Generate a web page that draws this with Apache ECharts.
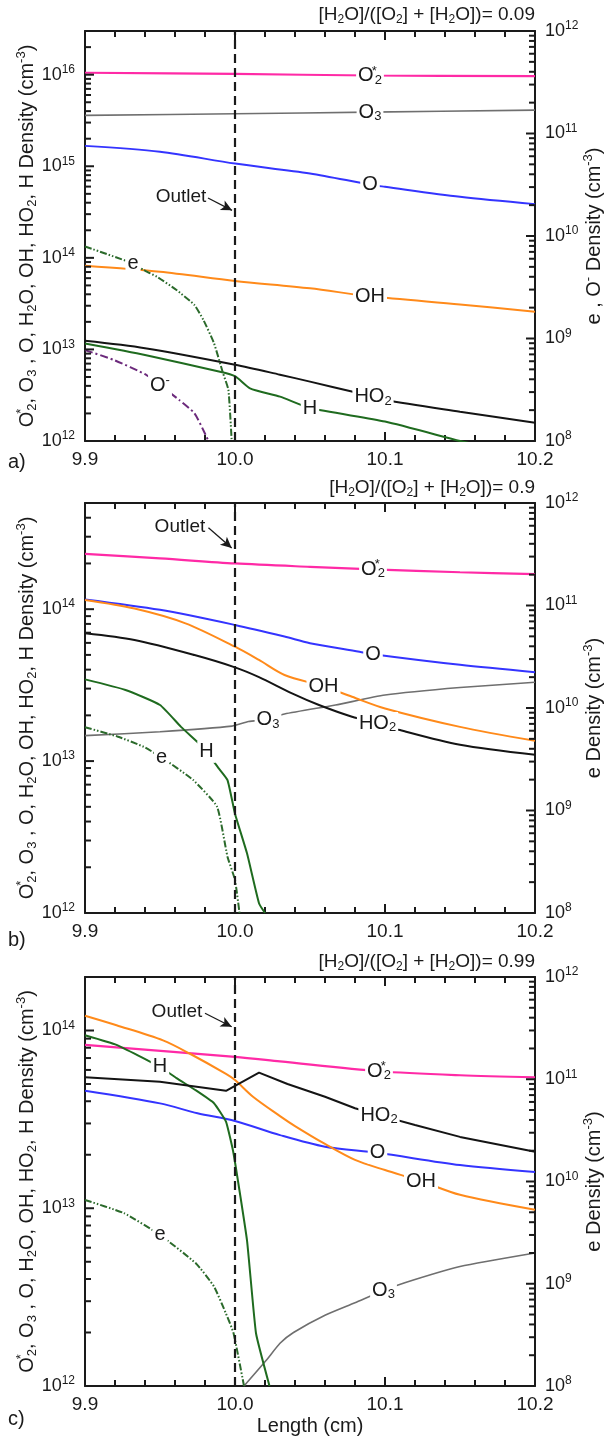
<!DOCTYPE html>
<html>
<head>
<meta charset="utf-8">
<script src="https://cdn.jsdelivr.net/npm/echarts@6.0.0/dist/echarts.min.js"></script>
<style>
html,body{margin:0;padding:0;background:#ffffff;}
#chart{width:605px;height:1444px;}
</style>
</head>
<body>
<div id="chart"></div>
<script>
// ================= DATA =================
const xMin = 9.9, xMax = 10.2, xStep = 0.1, xMinorSplit = 5;
const outletX = 10.0;
const ratioLabels = ['0.09', '0.9', '0.99'];
const panelLetters = ['a)', 'b)', 'c)'];
const leftMin = 1e12;
const leftMax = [3e16, 5e14, 2e14];
const rightMin = 1e8, rightMax = 1e12;

// ---- panel a : [H2O]/([O2]+[H2O]) = 0.09 ----
const a_O2s_x = [9.9, 10.0, 10.09, 10.2];
const a_O2s_y = [1.05e16, 1.02e16, 9.8e15, 9.66e15];
const a_O3_x = [9.9, 10.0, 10.09, 10.2];
const a_O3_y = [3.6e15, 3.74e15, 3.9e15, 4.1e15];
const a_O_x = [9.9, 9.95, 10.0, 10.05, 10.09, 10.1, 10.15, 10.2];
const a_O_y = [1.67e15, 1.44e15, 1.07e15, 8.35e14, 6.3e14, 5.97e14, 4.64e14, 3.86e14];
const a_OH_x = [9.9, 9.95, 10.0, 10.05, 10.09, 10.15, 10.2];
const a_OH_y = [8.2e13, 7.05e13, 5.6e13, 4.65e13, 3.8e13, 3.1e13, 2.58e13];
const a_HO2_x = [9.9, 9.94, 10.0, 10.03, 10.05, 10.08, 10.092, 10.1, 10.15, 10.2];
const a_HO2_y = [1.24e13, 1.03e13, 6.8e12, 5.3e12, 4.45e12, 3.4e12, 3.05e12, 2.8e12, 2.09e12, 1.58e12];
const a_H_x = [9.9, 9.94, 9.99, 10.0, 10.01, 10.03, 10.05, 10.1, 10.15, 10.16];
const a_H_y = [1.16e13, 8.7e12, 5.7e12, 5.1e12, 3.76e12, 3.05e12, 2.29e12, 1.63e12, 1.0e12, 0.92e12];
const a_e_x = [9.9, 9.932, 9.939, 9.948, 9.961, 9.973, 9.979, 9.986, 9.992, 9.9956, 9.9978];
const a_e_y = [7.9e9, 5.4e9, 4.66e9, 4.0e9, 2.97e9, 2.12e9, 1.51e9, 9.0e8, 4.6e8, 3.15e8, 1.0e8];
const a_Om_x = [9.9, 9.919, 9.941, 9.95, 9.963, 9.973, 9.981, 9.983];
const a_Om_y = [7.7e8, 6.2e8, 4.4e8, 3.5e8, 2.5e8, 1.86e8, 1.1e8, 0.95e8];
const a_outletText = [9.964, 4.6e14];
const a_outletArrow = [[9.982, 4.5e14], [9.998, 3.3e14]];

// ---- panel b : 0.9 ----
const b_O2s_x = [9.9, 9.95, 10.0, 10.05, 10.092, 10.15, 10.2];
const b_O2s_y = [2.31e14, 2.16e14, 2.0e14, 1.9e14, 1.83e14, 1.75e14, 1.7e14];
const b_O_x = [9.9, 9.95, 10.0, 10.033, 10.05, 10.083, 10.092, 10.15, 10.2];
const b_O_y = [1.16e14, 9.9e13, 7.87e13, 6.6e13, 5.97e13, 5.25e13, 5.05e13, 4.3e13, 3.85e13];
const b_OH_x = [9.9, 9.933, 9.967, 10.0, 10.016, 10.033, 10.059, 10.078, 10.1, 10.15, 10.2];
const b_OH_y = [1.15e14, 1.01e14, 8.07e13, 5.66e13, 4.63e13, 3.69e13, 3.1e13, 2.65e13, 2.22e13, 1.68e13, 1.36e13];
const b_HO2_x = [9.9, 9.933, 9.973, 10.0, 10.016, 10.038, 10.056, 10.078, 10.095, 10.11, 10.15, 10.2];
const b_HO2_y = [6.94e13, 6.27e13, 4.99e13, 4.14e13, 3.57e13, 2.79e13, 2.34e13, 1.96e13, 1.78e13, 1.6e13, 1.28e13, 1.1e13];
const b_O3_x = [9.9, 9.95, 9.998, 10.009, 10.022, 10.033, 10.067, 10.1, 10.15, 10.2];
const b_O3_y = [1.47e13, 1.56e13, 1.7e13, 1.82e13, 1.88e13, 2.04e13, 2.34e13, 2.72e13, 3.05e13, 3.3e13];
const b_H_x = [9.9, 9.927, 9.95, 9.964, 9.977, 9.981, 9.989, 9.995, 10.0, 10.008, 10.016, 10.02];
const b_H_y = [3.45e13, 2.94e13, 2.34e13, 1.68e13, 1.28e13, 1.15e13, 9.0e12, 7.5e12, 4.5e12, 2.47e12, 1.16e12, 1.0e12];
const b_e_x = [9.9, 9.922, 9.939, 9.951, 9.972, 9.988, 9.995, 10.0, 10.003];
const b_e_y = [6.5e9, 5.25e9, 4.19e9, 3.3e9, 1.99e9, 1.09e9, 3.54e8, 2.1e8, 1.0e8];
const b_outletText = [9.9633, 3.47e14];
const b_outletArrow = [[9.9823, 3.43e14], [9.9978, 2.53e14]];

// ---- panel c : 0.99 ----
const c_O2s_x = [9.9, 10.0, 10.03, 10.096, 10.15, 10.2];
const c_O2s_y = [8.3e13, 7.1e13, 6.7e13, 5.9e13, 5.6e13, 5.45e13];
const c_HO2_x = [9.9, 9.95, 9.994, 10.016, 10.035, 10.06, 10.08, 10.096, 10.12, 10.15, 10.2];
const c_HO2_y = [5.45e13, 5.15e13, 4.58e13, 5.8e13, 5.0e13, 4.24e13, 3.65e13, 3.34e13, 2.94e13, 2.52e13, 2.08e13];
const c_O_x = [9.9, 9.95, 9.975, 10.0, 10.03, 10.06, 10.095, 10.15, 10.2];
const c_O_y = [4.58e13, 3.89e13, 3.42e13, 3.1e13, 2.58e13, 2.22e13, 2.05e13, 1.75e13, 1.6e13];
const c_OH_x = [9.9, 9.921, 9.952, 9.97, 9.994, 10.0, 10.012, 10.03, 10.04, 10.06, 10.08, 10.1, 10.124, 10.15, 10.2];
const c_OH_y = [1.21e14, 1.07e14, 8.8e13, 7.4e13, 5.7e13, 5.26e13, 4.24e13, 3.3e13, 2.9e13, 2.3e13, 1.87e13, 1.64e13, 1.42e13, 1.19e13, 9.8e12];
const c_H_x = [9.9, 9.921, 9.95, 9.961, 9.974, 9.986, 9.994, 9.999, 10.008, 10.014, 10.023];
const c_H_y = [9.4e13, 8.3e13, 6.25e13, 5.4e13, 4.6e13, 3.9e13, 3.07e13, 2.04e13, 6.6e12, 1.98e12, 1.0e12];
const c_e_x = [9.9, 9.926, 9.95, 9.974, 9.986, 9.994, 9.999, 10.006];
const c_e_y = [6.6e9, 4.9e9, 3.0e9, 1.58e9, 9.4e8, 5.1e8, 3.3e8, 1.0e8];
const c_O3_x = [10.006, 10.021, 10.03, 10.039, 10.06, 10.08, 10.099, 10.12, 10.15, 10.2];
const c_O3_y = [1.0e12, 1.4e12, 1.74e12, 2.0e12, 2.5e12, 2.94e12, 3.45e12, 3.97e12, 4.7e12, 5.6e12];
const c_outletText = [9.9613, 1.27e14];
const c_outletArrow = [[9.98, 1.25e14], [9.9978, 1.05e14]];

// ================= STYLE / BUILD =================
const FONT = "'Liberation Sans', Arial, Helvetica, sans-serif";
const INK = '#1a1a1a';
const COL = {O2s:'#ff2aa6', O3:'#6f6f6f', O:'#3434ff', OH:'#ff8a1a', HO2:'#141414', H:'#1f6b1f', e:'#2b6a2b', Om:'#6c2a7c'};
const L10 = Math.log10;

const LBL = {
  O2s: 'O{ss|*}{sb|2}', O3: 'O{sb|3}', O: 'O', OH: 'OH', HO2: 'HO{sb|2}', H: 'H', e: 'e', Om: 'O{sp|-}'
};

function richSmall(fs) {
  return {
    sb: {fontSize: fs, verticalAlign: 'bottom', lineHeight: fs, fontFamily: FONT, color: INK},
    sp: {fontSize: fs, verticalAlign: 'top', lineHeight: fs, fontFamily: FONT, color: INK},
    ss: {fontSize: fs, verticalAlign: 'top', lineHeight: fs, width: 1, fontFamily: FONT, color: INK}
  };
}

const panels = [
  {grid: {left: 85, top: 31, width: 450, height: 410}, ratioTop: 4, letterTop: 452,
   rName: 'e , O{sp|-} Density (cm{sp|-3})',
   outletText: a_outletText, outletArrow: a_outletArrow,
   curves: [
     {k:'O2s', xs:a_O2s_x, ys:a_O2s_y, ax:'L', lx:10.09, sm:0.3},
     {k:'O3', xs:a_O3_x, ys:a_O3_y, ax:'L', lx:10.09, sm:0.3},
     {k:'O', xs:a_O_x, ys:a_O_y, ax:'L', lx:10.09, sm:0.3},
     {k:'OH', xs:a_OH_x, ys:a_OH_y, ax:'L', lx:10.09, sm:0.3},
     {k:'H', xs:a_H_x, ys:a_H_y, ax:'L', lx:10.05, sm:0.2},
     {k:'HO2', xs:a_HO2_x, ys:a_HO2_y, ax:'L', lx:10.092, sm:0.3, marks:true},
     {k:'e', xs:a_e_x, ys:a_e_y, ax:'R', lx:9.932, sm:0.15},
     {k:'Om', xs:a_Om_x, ys:a_Om_y, ax:'R', lx:9.95, sm:0.2}
   ]},
  {grid: {left: 85, top: 503, width: 450, height: 410}, ratioTop: 477, letterTop: 930,
   rName: 'e Density (cm{sp|-3})',
   outletText: b_outletText, outletArrow: b_outletArrow,
   curves: [
     {k:'O2s', xs:b_O2s_x, ys:b_O2s_y, ax:'L', lx:10.092, sm:0.3},
     {k:'O3', xs:b_O3_x, ys:b_O3_y, ax:'L', lx:10.022, sm:0.2},
     {k:'O', xs:b_O_x, ys:b_O_y, ax:'L', lx:10.092, sm:0.3},
     {k:'OH', xs:b_OH_x, ys:b_OH_y, ax:'L', lx:10.059, sm:0.3},
     {k:'H', xs:b_H_x, ys:b_H_y, ax:'L', lx:9.981, sm:0.15},
     {k:'HO2', xs:b_HO2_x, ys:b_HO2_y, ax:'L', lx:10.095, sm:0.3, marks:true},
     {k:'e', xs:b_e_x, ys:b_e_y, ax:'R', lx:9.951, sm:0.15}
   ]},
  {grid: {left: 85, top: 977, width: 450, height: 409}, ratioTop: 951, letterTop: 1409,
   rName: 'e Density (cm{sp|-3})',
   outletText: c_outletText, outletArrow: c_outletArrow,
   curves: [
     {k:'O2s', xs:c_O2s_x, ys:c_O2s_y, ax:'L', lx:10.096, sm:0.3},
     {k:'O3', xs:c_O3_x, ys:c_O3_y, ax:'L', lx:10.099, sm:0.2},
     {k:'O', xs:c_O_x, ys:c_O_y, ax:'L', lx:10.095, sm:0.3},
     {k:'OH', xs:c_OH_x, ys:c_OH_y, ax:'L', lx:10.124, sm:0.3},
     {k:'H', xs:c_H_x, ys:c_H_y, ax:'L', lx:9.95, sm:0.12},
     {k:'HO2', xs:c_HO2_x, ys:c_HO2_y, ax:'L', lx:10.096, sm:0, marks:true},
     {k:'e', xs:c_e_x, ys:c_e_y, ax:'R', lx:9.95, sm:0.15}
   ]}
];

const lineStyles = {
  O2s: {width: 2.2}, O3: {width: 1.6}, O: {width: 2}, OH: {width: 2}, HO2: {width: 2}, H: {width: 2},
  e: {width: 2, type: [7, 2, 1.5, 2, 1.5, 2]}, Om: {width: 2, type: [8, 3, 2, 3]}
};

// log-axis tick positions (log10 space): decades are major, 2..9 are minor
function logTicks(lo, hi) {
  const out = []; const a = L10(lo), b = L10(hi) + 1e-9;
  for (let n = Math.floor(a); n <= Math.ceil(b); n++) {
    for (let k = 1; k <= 9; k++) {
      const v = n + L10(k);
      if (v >= a - 1e-9 && v <= b) out.push({v: v, major: k === 1});
    }
  }
  return out;
}
const expFmt = v => (Math.abs(v - Math.round(v)) < 1e-6) ? '10{e|' + Math.round(v) + '}' : '';
const tickLabelRich = {e: {fontSize: 12, verticalAlign: 'top', lineHeight: 12, fontFamily: FONT, color: INK}};
const MAJ = 9, MIN = 6, TW = 2;

function tickCustom(xIdx, yIdx, side, ticks) {
  return {
    type: 'custom', coordinateSystem: 'cartesian2d', xAxisIndex: xIdx, yAxisIndex: yIdx,
    silent: true, z: 10, clip: false, animation: false,
    encode: {x: 0, y: 1},
    data: ticks.map(t => [side === 'L' ? xMin : xMax, t.v, t.major ? 1 : 0]),
    renderItem: function (params, api) {
      const p = api.coord([api.value(0), api.value(1)]);
      const len = api.value(2) ? MAJ : MIN;
      const shape = side === 'L' ? {x1: p[0], y1: p[1], x2: p[0] + len, y2: p[1]}
                                 : {x1: p[0], y1: p[1], x2: p[0] - len, y2: p[1]};
      return {type: 'line', shape: shape, style: {stroke: INK, lineWidth: TW, fill: null}};
    }
  };
}

const grids = [], xAxes = [], yAxes = [], series = [], titles = [];
const AXW = 2;

panels.forEach((P, p) => {
  grids[p] = Object.assign({containLabel: false, outerBoundsMode: 'none'}, P.grid);
  const lmin = L10(leftMin), lmax = L10(leftMax[p]);
  const rmin = L10(rightMin), rmax = L10(rightMax);

  const xTickCfg = {
    axisLine: {show: true, onZero: false, lineStyle: {color: INK, width: AXW}},
    axisTick: {show: true, inside: true, length: MAJ, lineStyle: {color: INK, width: TW}},
    minorTick: {show: true, splitNumber: xMinorSplit, length: MIN, lineStyle: {color: INK, width: TW}},
    splitLine: {show: false}, minorSplitLine: {show: false}
  };
  xAxes[p] = Object.assign({
    gridIndex: p, type: 'value', position: 'bottom', min: xMin, max: xMax, interval: xStep,
    axisLabel: {show: true, margin: 9, fontSize: 19, color: INK, fontFamily: FONT, formatter: v => v.toFixed(1)}
  }, xTickCfg);
  if (p === 2) {
    Object.assign(xAxes[p], {name: 'Length (cm)', nameLocation: 'middle', nameGap: 30, nameMoveOverlap: false,
      nameTextStyle: {fontSize: 20, color: INK, fontFamily: FONT}});
  }
  xAxes[p + 3] = Object.assign({
    gridIndex: p, type: 'value', position: 'top', min: xMin, max: xMax, interval: xStep,
    axisLabel: {show: false}
  }, xTickCfg);

  const lMaj = logTicks(leftMin, leftMax[p]).filter(t => t.major).map(t => t.v);
  const rMaj = logTicks(rightMin, rightMax).filter(t => t.major).map(t => t.v);
  yAxes[p] = {
    gridIndex: p, type: 'value', position: 'left', min: lmin, max: lmax, interval: 1,
    axisLine: {show: true, onZero: false, lineStyle: {color: INK, width: AXW}},
    axisTick: {show: false},
    axisLabel: {show: true, customValues: lMaj, formatter: expFmt, margin: 10, fontSize: 18, lineHeight: 22,
      color: INK, fontFamily: FONT, rich: tickLabelRich},
    splitLine: {show: false},
    name: 'O{ss|*}{sb|2}, O{sb|3} , O, H{sb|2}O, OH, HO{sb|2}, H Density (cm{sp|-3})',
    nameLocation: 'middle', nameRotate: 90, nameGap: 46, nameMoveOverlap: false,
    nameTextStyle: {fontSize: 20, lineHeight: 24, color: INK, fontFamily: FONT, rich: richSmall(13)}
  };
  yAxes[p + 3] = {
    gridIndex: p, type: 'value', position: 'right', min: rmin, max: rmax, interval: 1,
    axisLine: {show: true, onZero: false, lineStyle: {color: INK, width: AXW}},
    axisTick: {show: false},
    axisLabel: {show: true, customValues: rMaj, formatter: expFmt, margin: 10, fontSize: 18, lineHeight: 22,
      color: INK, fontFamily: FONT, rich: tickLabelRich},
    splitLine: {show: false},
    name: P.rName, nameLocation: 'middle', nameRotate: 90, nameGap: 47, nameMoveOverlap: false,
    nameTextStyle: {fontSize: 20, lineHeight: 24, color: INK, fontFamily: FONT, rich: richSmall(13)}
  };

  series.push(tickCustom(p, p, 'L', logTicks(leftMin, leftMax[p])));
  series.push(tickCustom(p, p + 3, 'R', logTicks(rightMin, rightMax)));

  P.curves.forEach(cv => {
    const li = cv.xs.indexOf(cv.lx);
    const data = cv.xs.map((x, i) => {
      const v = [x, L10(cv.ys[i])];
      return i === li ? {value: v, label: {show: true, formatter: LBL[cv.k]}} : {value: v};
    });
    const s = {
      type: 'line', name: cv.k, xAxisIndex: p, yAxisIndex: cv.ax === 'L' ? p : p + 3,
      data: data, showSymbol: true, symbol: 'circle', symbolSize: 0, silent: true, clip: true,
      smooth: cv.sm || false, z: 3,
      lineStyle: Object.assign({color: COL[cv.k]}, lineStyles[cv.k]),
      itemStyle: {color: COL[cv.k]},
      emphasis: {disabled: true},
      label: {show: false, position: 'inside', fontSize: 20, lineHeight: 22, color: INK, fontFamily: FONT,
        backgroundColor: '#ffffff', padding: [0, 2, 0, 2], rich: richSmall(13)}
    };
    if (cv.marks) {
      const A = P.outletArrow;
      s.markLine = {
        silent: true, animation: false, symbol: ['none', 'none'], label: {show: false},
        data: [
          {xAxis: outletX, lineStyle: {type: [9, 5], width: 2.2, color: INK}},
          [
            {coord: [A[0][0], L10(A[0][1])], symbol: 'none', lineStyle: {type: 'solid', width: 1.3, color: INK}},
            {coord: [A[1][0], L10(A[1][1])], symbol: 'arrow', symbolSize: [8, 11], lineStyle: {type: 'solid', width: 1.3, color: INK}}
          ]
        ]
      };
      s.markPoint = {
        silent: true, animation: false, symbol: 'circle', symbolSize: 0,
        label: {show: true, position: 'inside', formatter: 'Outlet', fontSize: 19, color: INK, fontFamily: FONT},
        data: [{coord: [P.outletText[0], L10(P.outletText[1])]}]
      };
    }
    series.push(s);
  });

  titles.push({
    text: '[H{sb|2}O]/([O{sb|2}] + [H{sb|2}O])= ' + ratioLabels[p],
    right: 70, top: P.ratioTop, padding: 0,
    textStyle: {fontSize: 19, fontWeight: 'normal', lineHeight: 22, color: INK, fontFamily: FONT, rich: richSmall(12)}
  });
  titles.push({
    text: panelLetters[p], left: 8, top: P.letterTop, padding: 0,
    textStyle: {fontSize: 20, fontWeight: 'normal', color: INK, fontFamily: FONT}
  });
});

const chart = echarts.init(document.getElementById('chart'), null, {renderer: 'canvas'});
chart.setOption({
  backgroundColor: '#ffffff',
  animation: false,
  textStyle: {fontFamily: FONT},
  title: titles,
  grid: grids,
  xAxis: xAxes,
  yAxis: yAxes,
  series: series
});
</script>
</body>
</html>
